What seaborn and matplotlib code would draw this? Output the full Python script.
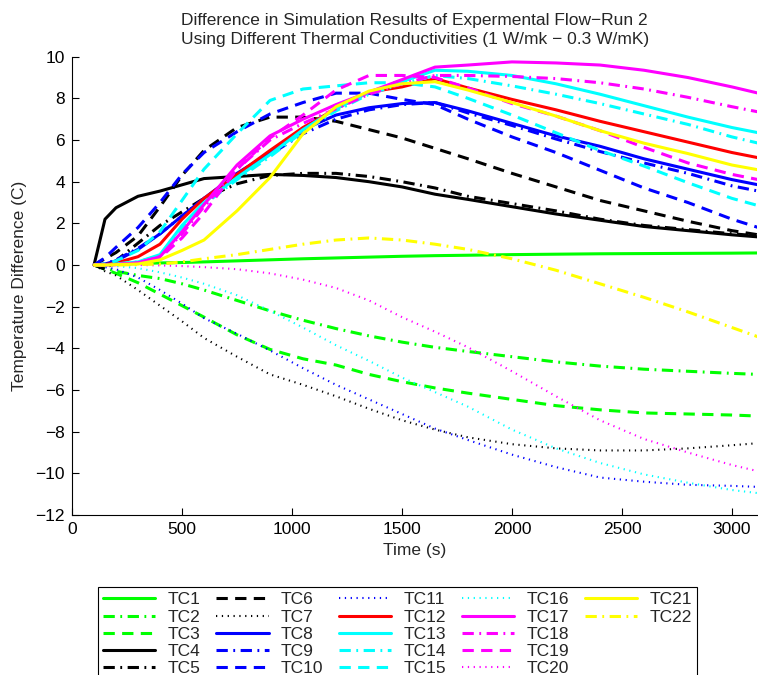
import matplotlib
matplotlib.use("Agg")
import matplotlib.pyplot as plt
import seaborn as sns
import pandas as pd
from matplotlib import font_manager
from matplotlib.lines import Line2D

sns.set_style("white")
avail = {f.name for f in font_manager.fontManager.ttflist}
fam = [f for f in ["Liberation Sans Narrow", "Liberation Sans", "DejaVu Sans"] if f in avail]
plt.rcParams["font.family"] = fam

# ---------------- data ----------------
time_s = [100, 150, 200, 300, 400, 500, 600, 750, 900, 1050, 1200, 1350, 1500,
          1650, 1800, 2000, 2200, 2400, 2600, 2800, 3000, 3120]

tc1 = [0, 0.02, 0.04, 0.07, 0.1, 0.12, 0.15, 0.2, 0.25, 0.3, 0.34, 0.38, 0.42,
       0.45, 0.47, 0.5, 0.52, 0.54, 0.55, 0.56, 0.57, 0.58]
tc2 = [0, -0.15, -0.3, -0.5, -0.65, -0.9, -1.2, -1.7, -2.2, -2.65, -3.05, -3.4, -3.7,
       -3.95, -4.15, -4.4, -4.65, -4.85, -5.0, -5.1, -5.2, -5.25]
tc3 = [0, -0.2, -0.4, -0.85, -1.4, -1.95, -2.5, -3.35, -4.05, -4.5, -4.8, -5.25, -5.6,
       -5.9, -6.15, -6.45, -6.75, -6.95, -7.1, -7.15, -7.2, -7.25]
tc4 = [0, 2.2, 2.75, 3.3, 3.55, 3.85, 4.15, 4.25, 4.35, 4.3, 4.2, 4.0, 3.75,
       3.4, 3.15, 2.8, 2.45, 2.15, 1.85, 1.65, 1.45, 1.35]
tc5 = [0, -0.2, 0.2, 1.05, 1.9, 2.55, 3.2, 3.9, 4.3, 4.4, 4.4, 4.25, 4.0,
       3.7, 3.3, 2.95, 2.6, 2.2, 1.9, 1.7, 1.5, 1.4]
tc6 = [0, 0.3, 0.6, 1.4, 2.8, 4.3, 5.5, 6.6, 7.1, 7.1, 6.9, 6.5, 6.1,
       5.6, 5.1, 4.4, 3.75, 3.1, 2.6, 2.1, 1.65, 1.45]
tc7 = [0, -0.3, -0.5, -1.2, -1.95, -2.7, -3.5, -4.4, -5.25, -5.75, -6.3, -6.9, -7.45,
       -7.9, -8.27, -8.6, -8.8, -8.9, -8.9, -8.8, -8.65, -8.55]
tc8 = [0, 0.05, 0.2, 0.75, 1.5, 2.35, 3.2, 4.4, 5.4, 6.5, 7.2, 7.55, 7.75,
       7.8, 7.4, 6.8, 6.2, 5.7, 5.1, 4.6, 4.1, 3.85]
tc9 = [0, 0.05, 0.25, 0.8, 1.5, 2.35, 3.2, 4.3, 5.3, 6.3, 7.0, 7.45, 7.7,
       7.8, 7.3, 6.7, 6.05, 5.45, 4.9, 4.4, 3.8, 3.55]
tc10 = [0, 0.35, 0.85, 1.8, 3.0, 4.35, 5.4, 6.4, 7.25, 7.8, 8.25, 8.25, 7.95,
        7.7, 7.0, 6.15, 5.4, 4.55, 3.7, 3.0, 2.2, 1.8]
tc11 = [0, -0.1, -0.2, -0.6, -1.2, -1.85, -2.55, -3.3, -4.1, -4.95, -5.75, -6.45, -7.15,
        -7.85, -8.4, -9.1, -9.7, -10.2, -10.4, -10.55, -10.6, -10.65]
tc12 = [0, 0.02, 0.1, 0.4, 1.0, 2.2, 3.2, 4.35, 5.5, 6.6, 7.5, 8.3, 8.55,
        8.95, 8.5, 7.95, 7.45, 6.9, 6.4, 5.9, 5.4, 5.15]
tc13 = [0, 0.0, 0.05, 0.15, 0.5, 1.9, 3.0, 4.2, 5.3, 6.5, 7.5, 8.3, 8.8,
        9.35, 9.3, 9.1, 8.7, 8.2, 7.65, 7.1, 6.6, 6.35]
tc14 = [0, 0.0, 0.05, 0.15, 0.45, 1.8, 2.9, 4.1, 5.2, 6.4, 7.4, 8.2, 8.7,
        9.1, 8.95, 8.6, 8.2, 7.75, 7.25, 6.75, 6.15, 5.85]
tc15 = [0, 0.05, 0.2, 0.7, 1.6, 3.1, 4.6, 6.3, 7.9, 8.45, 8.6, 8.75, 8.75,
        8.55, 8.0, 7.2, 6.35, 5.5, 4.75, 3.95, 3.2, 2.85]
tc16 = [0, -0.02, -0.05, -0.15, -0.35, -0.6, -0.9, -1.45, -2.2, -3.0, -3.85, -4.6, -5.4,
        -6.1, -6.8, -7.9, -8.8, -9.5, -10.05, -10.45, -10.8, -10.95]
tc17 = [0, 0, 0.02, 0.1, 0.4, 1.6, 2.9, 4.8, 6.2, 7.0, 7.7, 8.3, 8.9,
        9.5, 9.6, 9.75, 9.7, 9.6, 9.35, 9.0, 8.55, 8.25]
tc18 = [0, 0, 0.02, 0.1, 0.4, 1.5, 2.8, 4.6, 6.0, 6.8, 7.5, 8.2, 8.7,
        9.1, 9.1, 9.05, 8.95, 8.75, 8.45, 8.05, 7.6, 7.35]
tc19 = [0, 0, 0.02, 0.1, 0.35, 1.3, 2.5, 4.6, 6.1, 7.2, 8.4, 9.1, 9.1,
        9.0, 8.5, 7.75, 7.15, 6.45, 5.65, 4.9, 4.35, 4.1]
tc20 = [0, 0, 0, 0, -0.02, -0.05, -0.1, -0.2, -0.4, -0.7, -1.1, -1.7, -2.5,
        -3.2, -3.95, -5.1, -6.3, -7.45, -8.35, -9.0, -9.6, -9.9]
tc21 = [0, 0, 0.02, 0.05, 0.25, 0.7, 1.2, 2.6, 4.2, 6.3, 7.6, 8.35, 8.7,
        8.8, 8.4, 7.8, 7.15, 6.45, 5.85, 5.35, 4.8, 4.57]
tc22 = [0, 0, 0, 0.02, 0.05, 0.15, 0.3, 0.5, 0.75, 1.0, 1.2, 1.3, 1.2,
        1.0, 0.75, 0.3, -0.25, -0.9, -1.55, -2.25, -3.0, -3.45]

series_names = ["TC%d" % i for i in range(1, 23)]
series_values = [tc1, tc2, tc3, tc4, tc5, tc6, tc7, tc8, tc9, tc10, tc11,
                 tc12, tc13, tc14, tc15, tc16, tc17, tc18, tc19, tc20, tc21, tc22]

# ---------------- styles ----------------
G, K, B, R, C, M, Y = "#00ff00", "#000000", "#0000ff", "#ff0000", "#00ffff", "#ff00ff", "#ffff00"
series_colors = [G, G, G, K, K, K, K, B, B, B, B, R, C, C, C, C, M, M, M, M, Y, Y]
SOLID = "-"
DASH = (0, (3.7, 2.4))
DOT = (0, (0.6, 2.2))
DASHDOT = (0, (3.7, 1.8, 0.6, 1.8))
series_styles = [SOLID, DASHDOT, DASH, SOLID, DASHDOT, DASH, DOT, SOLID, DASHDOT, DASH, DOT,
                 SOLID, SOLID, DASHDOT, DASH, DOT, SOLID, DASHDOT, DASH, DOT, SOLID, DASHDOT]

fig = plt.figure(figsize=(7.58, 6.75), dpi=100)
ax = fig.add_axes([0.095, 0.237, 0.904, 0.679])

for name, vals, col, ls in zip(series_names, series_values, series_colors, series_styles):
    df = pd.DataFrame({"t": time_s, "v": vals})
    lw = 1.5 if ls is DOT else 2.2
    sns.lineplot(data=df, x="t", y="v", color=col, linestyle=ls, lw=lw,
                 label=name, ax=ax, legend=False, sort=False)

FS = 12.5
ax.set_xlim(0, 3115)
ax.set_ylim(-12, 10)
ax.set_xticks(range(0, 3001, 500))
ax.set_yticks(range(-12, 11, 2))
ax.set_xticklabels([str(v) for v in range(0, 3001, 500)])
ax.set_yticklabels([str(v).replace("-", "\u2212") for v in range(-12, 11, 2)])
ax.tick_params(direction="in", length=5, width=0.8, labelsize=FS, colors="black",
               bottom=True, left=True, pad=5)
for s in ["top", "right"]:
    ax.spines[s].set_visible(False)
for s in ["left", "bottom"]:
    ax.spines[s].set_color("black")
    ax.spines[s].set_linewidth(0.8)

ax.set_xlabel("Time (s)", fontsize=FS, labelpad=4)
ax.set_ylabel("Temperature Difference (C)", fontsize=FS, labelpad=6)
ax.set_title("Difference in Simulation Results of Expermental Flow\u2212Run 2\n"
             "Using Different Thermal Conductivities (1 W/mk \u2212 0.3 W/mK)",
             fontsize=FS, pad=9, linespacing=1.35)

handles, labels = ax.get_legend_handles_labels()
# pad to 25 entries so columns fill 5,5,5,5,2 like the reference
while len(handles) < 25:
    handles.append(Line2D([], [], color="none"))
    labels.append("")
leg = fig.legend(handles, labels, ncol=5, loc="upper left",
                 bbox_to_anchor=(98 / 758, 1 - 587 / 675),
                 frameon=True, fancybox=False, framealpha=1, edgecolor="black",
                 fontsize=FS, handlelength=3.0, handletextpad=0.7,
                 columnspacing=0.93, labelspacing=0.12, borderpad=0.3,
                 borderaxespad=0)
leg.get_frame().set_linewidth(0.8)

fig.savefig("out.png", dpi=100)
